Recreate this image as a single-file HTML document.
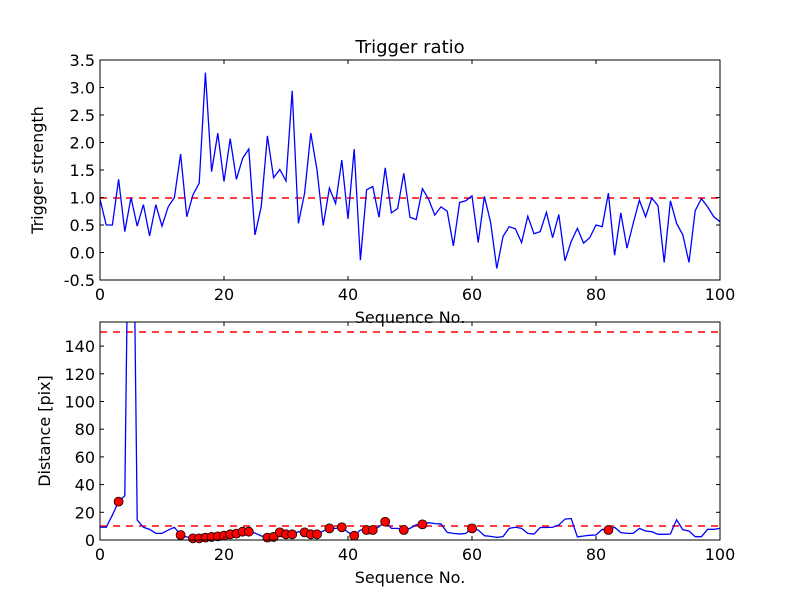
<!DOCTYPE html>
<html><head><meta charset="utf-8"><style>
html,body{margin:0;padding:0;background:#fff;}
svg text{font-family:"DejaVu Sans","Liberation Sans",sans-serif;fill:#000;}
</style></head><body>
<svg id="fig" width="800" height="600" viewBox="0 0 800 600" xmlns="http://www.w3.org/2000/svg">
<rect width="800" height="600" fill="#fff"/>
<text x="410" y="53" font-size="18" text-anchor="middle">Trigger ratio</text>
<g id="top"></g>
<g id="bot"></g>
</svg>
<script>
const seqIdx = Array.from({length:101},(_,i)=>i);
const triggerStrength = [0.97,0.5,0.5,1.33,0.38,1.0,0.48,0.87,0.3,0.87,0.48,0.83,1.0,1.79,0.65,1.05,1.26,3.27,1.47,2.17,1.29,2.07,1.33,1.71,1.88,0.32,0.83,2.12,1.36,1.51,1.3,2.94,0.53,1.08,2.17,1.5,0.49,1.17,0.89,1.68,0.61,1.88,-0.14,1.14,1.2,0.64,1.54,0.72,0.8,1.44,0.64,0.6,1.16,0.97,0.68,0.83,0.75,0.12,0.91,0.94,1.03,0.18,1.02,0.55,-0.29,0.29,0.47,0.43,0.18,0.66,0.34,0.38,0.73,0.27,0.69,-0.15,0.2,0.44,0.17,0.27,0.5,0.47,1.08,-0.05,0.72,0.08,0.53,0.95,0.65,0.99,0.85,-0.18,0.94,0.53,0.32,-0.18,0.76,0.98,0.83,0.65,0.56];
const distance = [9.2,9.2,18,27.7,32,400,14.4,9.2,7.7,4.8,4.8,7.2,9.2,3.6,2.2,1.2,1.2,1.7,2.2,2.6,3.1,4.1,4.6,6,6,5,3,1.7,2.2,5.5,4.1,4.1,6,5.5,4.1,4.1,6.5,8.4,8.4,9.2,5.5,3.1,7.2,7.2,7.2,9.6,13.2,8.4,8.4,7.2,8.4,11,11.3,12.5,11.8,11.6,5.5,4.8,4.3,4.8,8.4,7.2,3.1,2.6,1.9,2.4,8.4,9.2,8.4,4.8,4.3,9,9,9.2,10.8,15.1,15.5,2.2,2.9,3.4,3.6,7.7,7.2,9.2,5.3,4.8,4.8,8.4,6.5,6,4.1,4.1,4.3,14.6,7.4,6.5,2.4,2.4,7.7,7.7,8.4];
const markedIdx = [3,13,15,16,17,18,19,20,21,22,23,24,27,28,29,30,31,33,34,35,37,39,41,43,44,46,49,52,60,82];
const xTicks = [0,20,40,60,80,100];
const topYTicks = [-0.5,0,0.5,1.0,1.5,2.0,2.5,3.0,3.5];
const botYTicks = [0,20,40,60,80,100,120,140];
const topThreshold = [1.0];
const botThresholds = [10,150];

const NS="http://www.w3.org/2000/svg";
function mk(tag,attrs,parent){const e=document.createElementNS(NS,tag);for(const k in attrs)e.setAttribute(k,attrs[k]);parent.appendChild(e);return e;}

function panel(g,cfg){
  const {x0,x1,y0,y1,ymin,ymax,clipId}=cfg;
  const sx=v=>x0+(v-0)/(100-0)*(x1-x0);
  const sy=v=>y1-(v-ymin)/(ymax-ymin)*(y1-y0);
  const defs=mk('defs',{},g);
  const cp=mk('clipPath',{id:clipId},defs);
  mk('rect',{x:x0,y:y0,width:x1-x0,height:y1-y0},cp);
  return {sx,sy};
}
function axes(g,cfg,sx,sy,yt,fmt,xlabel,ylabel,ylx){
  const {x0,x1,y0,y1}=cfg;
  xTicks.forEach(t=>{
    const x=sx(t);
    const a=mk('line',{x1:x,x2:x,y1:y1,y2:y1-4,stroke:'#000','stroke-width':1},g);
    
    
    mk('line',{x1:x,x2:x,y1:y0,y2:y0+4,stroke:'#000','stroke-width':1},g);
    const tx=mk('text',{x:x,y:y1+20,'font-size':16,'text-anchor':'middle'},g);
    tx.textContent=t;
    
    
  });
  yt.forEach(t=>{
    const y=sy(t);
    mk('line',{x1:x0,x2:x0+4,y1:y,y2:y,stroke:'#000','stroke-width':1},g);
    mk('line',{x1:x1,x2:x1-4,y1:y,y2:y,stroke:'#000','stroke-width':1},g);
    const tx=mk('text',{x:x0-5,y:y+6,'font-size':16,'text-anchor':'end'},g);
    tx.textContent=fmt(t);
    
    
  });
  const fr=mk('rect',{x:x0,y:y0,width:x1-x0,height:y1-y0,fill:'none',stroke:'#000','stroke-width':1},g);
  
  
  const xl=mk('text',{x:(x0+x1)/2,y:y1+43,'font-size':16,'text-anchor':'middle'},g);
  xl.textContent=xlabel;
  
  
  const cy=(y0+y1)/2;
  const yl=mk('text',{x:ylx,y:cy,'font-size':16,'text-anchor':'middle',transform:`rotate(-90 ${ylx} ${cy})`},g);
  yl.textContent=ylabel;
  
  
}

// top panel
const gt=document.getElementById('top');
const ct={x0:100,x1:720,y0:60,y1:280,ymin:-0.5,ymax:3.5,clipId:'ct'};
const T=panel(gt,ct);
const gtc=mk('g',{'clip-path':'url(#ct)'},gt);
topThreshold.forEach(v=>{
  const yy=Math.round(T.sy(v));
  const l=mk('line',{x1:ct.x0,x2:ct.x1,y1:yy,y2:yy,stroke:'#f00','stroke-width':1.5,'stroke-dasharray':'7,6'},gtc);
  
  
});
const pt=mk('polyline',{fill:'none',stroke:'#00f','stroke-width':1.3,points:seqIdx.map(i=>T.sx(i)+','+T.sy(triggerStrength[i])).join(' ')},gtc);


axes(gt,ct,T.sx,T.sy,topYTicks,v=>v.toFixed(1),'Sequence No.','Trigger strength',43);

// bottom panel
const gb=document.getElementById('bot');
const cb={x0:100,x1:720,y0:322,y1:540,ymin:0,ymax:157.4,clipId:'cb'};
const B=panel(gb,cb);
const gbc=mk('g',{'clip-path':'url(#cb)'},gb);
botThresholds.forEach(v=>{
  const yy=Math.round(B.sy(v));
  const l=mk('line',{x1:cb.x0,x2:cb.x1,y1:yy,y2:yy,stroke:'#f00','stroke-width':1.5,'stroke-dasharray':'7,6'},gbc);
  
  
});
const pb=mk('polyline',{fill:'none',stroke:'#00f','stroke-width':1.3,points:seqIdx.map(i=>B.sx(i)+','+B.sy(distance[i])).join(' ')},gbc);


const gm=mk('g',{},gb);
markedIdx.forEach(i=>{
  const c=mk('circle',{cx:B.sx(i),cy:B.sy(distance[i]),r:4.5,fill:'#f00',stroke:'#000','stroke-width':0.8},gm);
  
  
});
axes(gb,cb,B.sx,B.sy,botYTicks,v=>String(v),'Sequence No.','Distance [pix]',50);
</script>
</body></html>
